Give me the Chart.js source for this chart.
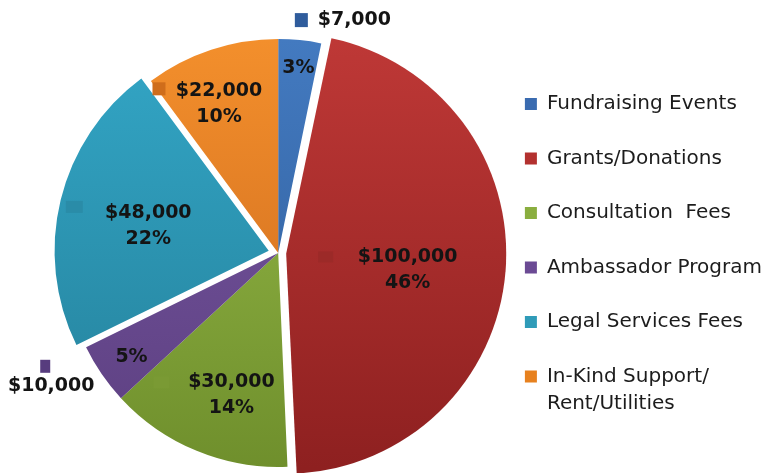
<!DOCTYPE html>
<html>
<head>
<meta charset="utf-8">
<script src="https://cdn.jsdelivr.net/npm/chart.js@4.4.0/dist/chart.umd.min.js"></script>
<style>
  html, body { margin: 0; padding: 0; background: #fff; overflow: hidden; }
</style>
</head>
<body>
<canvas id="myPie" width="772" height="473"></canvas>
<script>
// data
const categories = ["Fundraising Events", "Grants/Donations", "Consultation  Fees", "Ambassador Program", "Legal Services Fees", ["In-Kind Support/", "Rent/Utilities"]];
const amounts = [7000, 100000, 30000, 10000, 48000, 22000];

const total = amounts.reduce((a, b) => a + b, 0);
const moneyText = amounts.map(v => "$" + v.toLocaleString("en-US"));
const pctText = amounts.map(v => Math.round(v / total * 100) + "%");

// styling
const legendColors = ["#3a6bb0", "#b3312f", "#8aae3f", "#6b4a94", "#2f9bb8", "#e7811f"];
const topColors = ["#437ac0", "#be3836", "#98bc4a", "#7858a3", "#33a6c6", "#f38f2c"];
const bottomColors = ["#2d5a96", "#8e2020", "#6f8f2c", "#5c3f80", "#24809a", "#c9661c"];
const keyColors = ["#2f5c9c", "#9c2a28", "#7a9a34", "#573c7e", "#2a8ca8", "#cf6d1b"];
const sliceOffsets = [0, 32, 0, 0, 39, 0];

// label placement: [angle shift from slice middle (deg), distance as part of radius]
const labelPlace = [
  { pct: [0.4, 0.87], money: [12.3, 1.145], key: [-53, 0, 13, 14] },
  { both: [2.9, 0.61], key: [-82, -13, 15, 11] },
  { both: [-4.2, 0.70], key: [-70, -13, 16, 12] },
  { pct: [-0.9, 0.84], money: [4.0, 1.23], key: [-6, -20, 10, 13] },
  { both: [-1.9, 0.62], key: [-74, -19, 17, 12] },
  { both: [-3.4, 0.75], key: [-60, -15, 13, 13] }
];

const grads = {};
function sliceColor(context) {
  const i = context.dataIndex;
  const chart = context.chart;
  if (!chart.chartArea) return legendColors[i];
  if (!grads[i]) {
    const g = chart.ctx.createLinearGradient(0, 40, 0, 468);
    g.addColorStop(0, topColors[i]);
    g.addColorStop(1, bottomColors[i]);
    grads[i] = g;
  }
  return grads[i];
}

const sliceLabels = {
  id: "sliceLabels",
  afterDatasetsDraw(chart) {
    const ctx = chart.ctx;
    const arcs = chart.getDatasetMeta(0).data;
    ctx.save();
    ctx.font = "bold 19px 'DejaVu Sans'";
    ctx.textAlign = "center";
    ctx.textBaseline = "middle";
    arcs.forEach((arc, i) => {
      const p = arc.getProps(["x", "y", "startAngle", "endAngle", "outerRadius"], true);
      const mid = (p.startAngle + p.endAngle) / 2;
      const at = (pl) => {
        const a = mid + pl[0] * Math.PI / 180;
        const d = pl[1] * p.outerRadius;
        return [p.x + Math.cos(a) * d, p.y + Math.sin(a) * d];
      };
      const lp = labelPlace[i];
      let keyAt;
      ctx.fillStyle = "#141414";
      if (lp.both) {
        const [cx, cy] = at(lp.both);
        ctx.fillText(moneyText[i], cx, cy - 13);
        ctx.fillText(pctText[i], cx, cy + 13);
        keyAt = [cx, cy];
      } else {
        const [px, py] = at(lp.pct);
        ctx.fillText(pctText[i], px, py);
        const [mx, my] = at(lp.money);
        ctx.fillText(moneyText[i], mx, my);
        keyAt = [mx, my];
      }
      const k = lp.key;
      ctx.fillStyle = keyColors[i];
      ctx.fillRect(keyAt[0] + k[0] - k[2] / 2, keyAt[1] + k[1] - k[3] / 2, k[2], k[3]);
    });
    ctx.restore();
  }
};

new Chart(document.getElementById("myPie"), {
  type: "pie",
  data: {
    labels: categories,
    datasets: [
      {
        data: amounts,
        backgroundColor: sliceColor,
        borderWidth: 0,
        offset: sliceOffsets,
        radius: 214
      }
    ]
  },
  options: {
    responsive: false,
    animation: false,
    devicePixelRatio: 1,
    layout: {
      padding: { left: 66, right: 0, top: 33, bottom: 0 }
    },
    plugins: {
      tooltip: { enabled: false },
      legend: {
        position: "right",
        title: { display: true, text: "", padding: 0, font: { size: 8.5, lineHeight: 1 } },
        labels: {
          boxWidth: 12,
          boxHeight: 12,
          padding: 34.5,
          color: "#1c1c1c",
          font: { family: "'DejaVu Sans'", size: 20, lineHeight: 1.35 },
          generateLabels: () => categories.map((c, i) => ({
            text: c,
            fillStyle: legendColors[i],
            strokeStyle: legendColors[i],
            fontColor: "#1c1c1c",
            lineWidth: 0,
            hidden: false,
            index: i
          }))
        }
      }
    }
  },
  plugins: [sliceLabels]
});
</script>
</body>
</html>
